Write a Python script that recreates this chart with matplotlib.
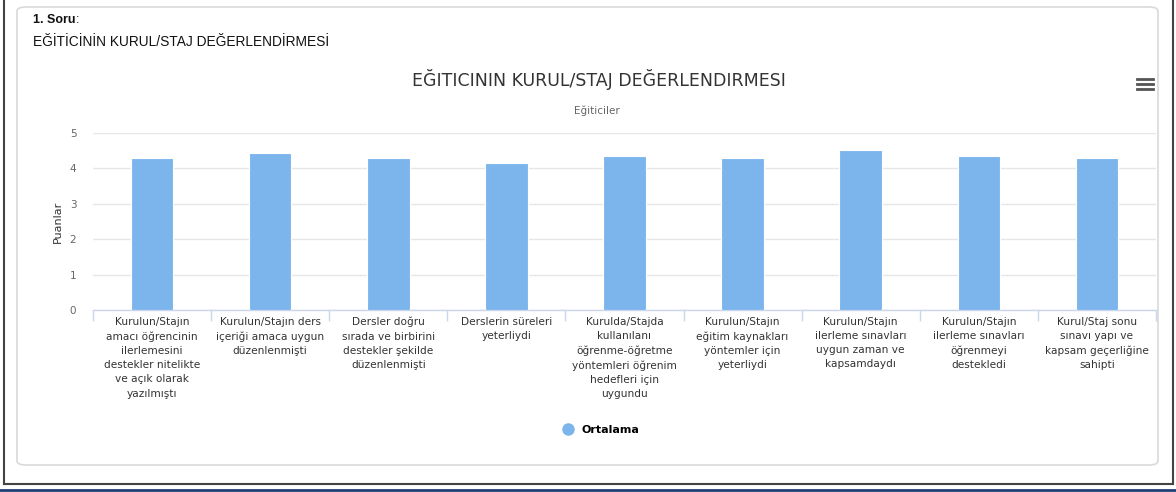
import matplotlib
matplotlib.use("Agg")
import matplotlib.pyplot as plt
from matplotlib.patches import FancyBboxPatch
from matplotlib.lines import Line2D
import numpy as np

# data
categories = [
    "Kurulun/Stajın\namacı öğrencinin\nilerlemesini\ndestekler nitelikte\nve açık olarak\nyazılmıştı",
    "Kurulun/Stajın ders\niçeriği amaca uygun\ndüzenlenmişti",
    "Dersler doğru\nsırada ve birbirini\ndestekler şekilde\ndüzenlenmişti",
    "Derslerin süreleri\nyeterliydi",
    "Kurulda/Stajda\nkullanılanı\nöğrenme-öğretme\nyöntemleri öğrenim\nhedefleri için\nuygundu",
    "Kurulun/Stajın\neğitim kaynakları\nyöntemler için\nyeterliydi",
    "Kurulun/Stajın\nilerleme sınavları\nuygun zaman ve\nkapsamdaydı",
    "Kurulun/Stajın\nilerleme sınavları\nöğrenmeyi\ndestekledi",
    "Kurul/Staj sonu\nsınavı yapı ve\nkapsam geçerliğine\nsahipti",
]
ortalama = [4.28, 4.44, 4.28, 4.14, 4.36, 4.28, 4.53, 4.36, 4.28]
yticks = [0, 1, 2, 3, 4, 5]

W, H = 1176, 492
fig = plt.figure(figsize=(W / 100, H / 100), dpi=100)

def fx(px):
    return px / W

def fy(py):
    return 1 - py / H

# page frame
fig.add_artist(Line2D([fx(4), fx(4)], [fy(0), fy(484)], color="#444444", lw=1.5))
fig.add_artist(Line2D([fx(1173), fx(1173)], [fy(0), fy(484)], color="#444444", lw=1.5))
fig.add_artist(Line2D([fx(4), fx(1173)], [fy(484), fy(484)], color="#444444", lw=1.5))
fig.add_artist(Line2D([0, 1], [fy(490), fy(490)], color="#1f3f73", lw=2))
panel = FancyBboxPatch((fx(17), fy(465)), fx(1158) - fx(17), fy(7) - fy(465),
                       boxstyle="round,pad=0,rounding_size=0.008",
                       transform=fig.transFigure, fc="white", ec="#d9d9d9", lw=1.2,
                       zorder=-5)
fig.add_artist(panel)

fig.text(fx(33), fy(20), "1. Soru", fontsize=9, fontweight="bold",
         family="Liberation Sans", va="center", color="#111111")
fig.text(fx(76), fy(20), ":", fontsize=9, family="Liberation Sans",
         va="center", color="#111111")
fig.text(fx(33), fy(42), "EĞİTİCİNİN KURUL/STAJ DEĞERLENDİRMESİ", fontsize=9.9,
         family="Liberation Sans", va="center", color="#111111")

# chart
ax = fig.add_axes([fx(93), fy(310), fx(1156) - fx(93), fy(133) - fy(310)])
ax.patch.set_alpha(0)
x = np.arange(len(categories))
ax.bar(x, ortalama, width=0.36, color="#7cb5ec", edgecolor="#ffffff", lw=0.8, zorder=3)
ax.set_xlim(-0.5, len(categories) - 0.5)
ax.set_ylim(0, 5)
ax.set_yticks(yticks)
ax.yaxis.grid(True, color="#e6e6e6", lw=1, zorder=0)
for s in ["top", "right", "left"]:
    ax.spines[s].set_visible(False)
ax.spines["bottom"].set_color("#ccd6eb")
ax.spines["bottom"].set_linewidth(1)
ax.tick_params(axis="y", length=0, labelsize=7.5, labelcolor="#666666", pad=12)
ax.set_xticks(x)
ax.set_xticklabels(categories, fontsize=7.6, color="#333333", linespacing=1.52, va="top")
ax.set_xticks(np.arange(-0.5, len(categories)), minor=True)
ax.tick_params(axis="x", which="major", length=0, pad=5)
ax.tick_params(axis="x", which="minor", length=8, color="#ccd6eb", width=1)
ax.set_ylabel("Puanlar", fontsize=8, color="#333333", labelpad=5)

fig.text(fx(599), fy(80), "EĞITICININ KURUL/STAJ DEĞERLENDIRMESI", fontsize=12.5,
         color="#333333", ha="center", va="center")
fig.text(fx(597), fy(111), "Eğiticiler", fontsize=7.5, color="#666666",
         ha="center", va="center")

# menu icon
for yy in [79, 84, 89]:
    fig.add_artist(Line2D([fx(1137), fx(1153)], [fy(yy), fy(yy)], color="#555555", lw=2))

handle = Line2D([], [], marker="o", ls="none", markersize=8, color="#7cb5ec")
fig.legend([handle], ["Ortalama"], loc="center", bbox_to_anchor=(fx(598), fy(430)),
           frameon=False, handletextpad=0.2, prop={"weight": "bold", "size": 8})

fig.savefig("out.png", dpi=100)
